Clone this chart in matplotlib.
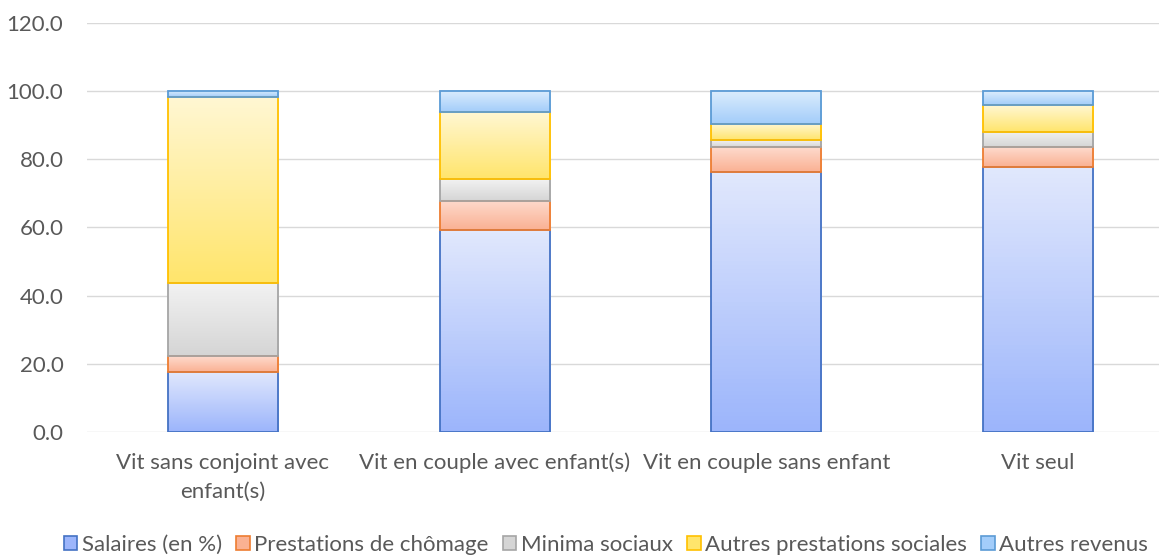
import numpy as np
import matplotlib
matplotlib.use('Agg')
import matplotlib.pyplot as plt
from matplotlib.patches import Patch
from matplotlib.colors import LinearSegmentedColormap

plt.rcParams['font.family'] = ['Lato', 'DejaVu Sans']

# categories and series (% of revenue)
categories = ['Vit sans conjoint avec\nenfant(s)', 'Vit en couple avec enfant(s)',
              'Vit en couple sans enfant', 'Vit seul']
series_names = ['Salaires (en %)', 'Prestations de chômage', 'Minima sociaux',
                'Autres prestations sociales', 'Autres revenus']
salaires = [17.7, 59.2, 76.3, 77.8]
chomage = [4.6, 8.6, 7.2, 5.8]
minima = [21.3, 6.3, 2.0, 4.4]
autres_prest = [54.6, 19.7, 4.8, 7.9]
autres_rev = [1.8, 6.2, 9.7, 4.1]
yticks = [0, 20, 40, 60, 80, 100, 120]

# (top colour, bottom colour, edge)
styles = [
    ('#e1e8fd', '#9cb5fb', '#4472c4'),
    ('#fedacd', '#fab193', '#ed7d31'),
    ('#f2f2f2', '#d5d5d5', '#a5a5a5'),
    ('#fff7d3', '#ffe56c', '#ffc000'),
    ('#dcedfd', '#a3cdfa', '#5b9bd5'),
]

fig = plt.figure(figsize=(11.59, 5.58), dpi=100)
ax = fig.add_axes([87 / 1159, 126 / 558, 1087 / 1159, 409.3 / 558])

x = np.arange(len(categories))
bottom = np.zeros(len(categories))
width = 0.405
for vals, (top_c, bot_c, edge_c) in zip([salaires, chomage, minima, autres_prest, autres_rev], styles):
    bars = ax.bar(x, vals, width, bottom=bottom, facecolor='none',
                  edgecolor=edge_c, linewidth=1.3, zorder=4)
    cmap = LinearSegmentedColormap.from_list('g', [bot_c, top_c])
    grad = np.linspace(0, 1, 64).reshape(-1, 1)
    for p in bars:
        x0, y0 = p.get_x(), p.get_y()
        ax.imshow(grad, cmap=cmap, origin='lower', aspect='auto', zorder=3,
                  extent=[x0, x0 + p.get_width(), y0, y0 + p.get_height()])
    bottom += np.array(vals)

ax.set_xlim(-0.5, len(categories) - 0.5)
ax.set_ylim(0, 120)
ax.set_yticks(yticks)
ax.set_yticklabels(['{:.1f}'.format(v) for v in yticks])
ax.set_xticks(x)
ax.set_xticklabels(categories, linespacing=1.55)
ax.grid(axis='y', color='#d9d9d9', linewidth=1.0, zorder=0)
for s in ax.spines.values():
    s.set_visible(False)
ax.tick_params(axis='both', length=0, labelsize=16, colors='#595959')
ax.tick_params(axis='y', pad=17)
ax.tick_params(axis='x', pad=15)

handles = [Patch(facecolor=bot_c, edgecolor=edge_c, linewidth=1.2) for _, bot_c, edge_c in styles]
fig.legend(handles, series_names, loc='center', bbox_to_anchor=(606 / 1159, 1 - 545 / 558),
           ncol=5, frameon=False, fontsize=16, labelcolor='#595959',
           handlelength=0.6, handleheight=0.6, handletextpad=0.2, columnspacing=0.65)

fig.savefig('out.png', dpi=100)
